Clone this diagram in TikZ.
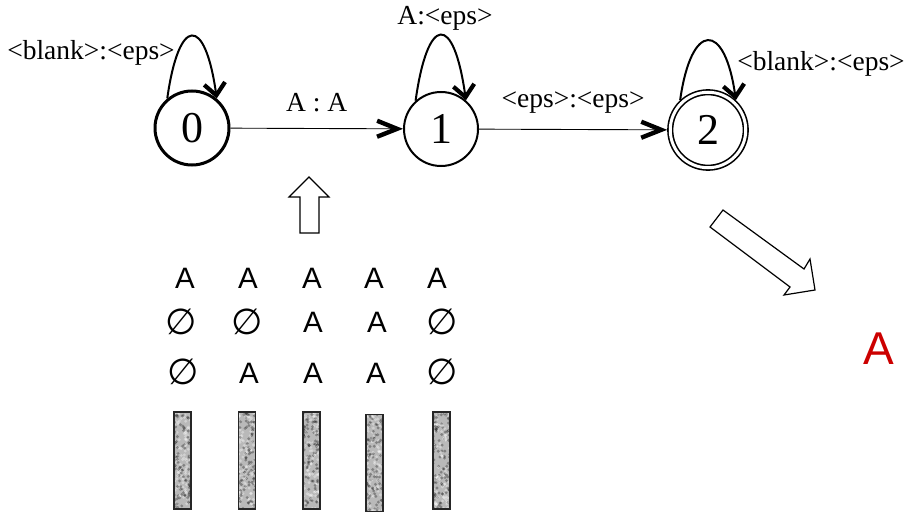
\documentclass[tikz,border=0pt]{standalone}
\usepackage{fontspec}
\setmainfont{Liberation Serif}
\newfontfamily\arialfont{Liberation Sans}
\newfontfamily\symfont{DejaVu Sans}
\usetikzlibrary{arrows.meta}

\begin{document}
\begin{tikzpicture}[x=1pt, y=1pt,
    state/.style={circle, draw=black, line width=2pt, minimum size=74pt, inner sep=0pt, font=\fontsize{44}{44}\selectfont},
    accept/.style={state, double, double distance=3pt, line width=1.6pt, minimum size=75.5pt, outer sep=3.1pt},
    lbl/.style={font=\fontsize{27.5}{30}\selectfont, inner sep=0pt},
    fsaedge/.style={-{Straight Barb[length=20pt, width=16pt, line width=4.4pt]}, line width=0.9pt},
    loopedge/.style={-{Straight Barb[length=12pt, width=21pt, line width=4.2pt]}, line width=2pt},
    letter/.style={font=\arialfont\fontsize{29.5}{29.5}\selectfont, inner sep=0pt},
    nul/.style={font=\symfont\fontsize{36}{36}\selectfont, inner sep=0pt},
    bar/.style={rectangle, draw=black!85, line width=1.6pt, fill=gray!55, minimum width=17pt, minimum height=97pt, inner sep=0pt,
        path picture={
            \foreach \k in {1,...,90}{
                \fill[black, opacity=0.3] (path picture bounding box.south west) ++({17*rnd},{97*rnd}) circle (1.6pt);
                \fill[white, opacity=0.35] (path picture bounding box.south west) ++({17*rnd},{97*rnd}) circle (1.6pt);
            }}},
    hollow/.style={draw=black, line width=1.2pt, fill=white, line join=miter}]
    \useasboundingbox (0,0) rectangle (910,-516);
    \pgfmathsetseed{42}
    % transducer
    \node[state, line width=3pt] (s0) at (192,-128) {0};
    \node[state] (s1) at (441,-129) {1};
    \node[accept] (s2) at (708,-130) {2};
    \draw[fsaedge] (s0) -- node[lbl, above=16pt]{A : A} (s1);
    \draw[fsaedge] (s1) -- node[lbl, above=16pt]{<eps>:<eps>} (s2);
    \draw[loopedge] (s0.130) to[out=82, in=98, distance=84pt] (s0.50);
    \draw[loopedge] (s1.132) to[out=82, in=98, distance=88pt] (s1.49);
    \draw[loopedge] (s2.133) to[out=82, in=98, distance=80pt] (s2.47);
    \node[lbl] (l0) at (91,-53) {<blank>:<eps>};
    \node[lbl] (l1) at (445,-18) {A:<eps>};
    \node[lbl] (l2) at (821,-64) {<blank>:<eps>};
    % hollow arrows
    \draw[hollow] (309,-177) -- (329,-197) -- (319,-197) -- (319,-233) -- (300,-233) -- (300,-197) -- (289,-197) -- cycle;
    \draw[hollow] (723,-210) -- (804,-269) -- (810,-259) -- (815,-290) -- (784,-295) -- (790,-287) -- (710,-227) -- cycle;
    % frames
    \node[letter] (a11) at (185,-278) {A};
    \node[letter] (a12) at (248,-278) {A};
    \node[letter] (a13) at (312,-278) {A};
    \node[letter] (a14) at (374,-278) {A};
    \node[letter] (a15) at (437,-278) {A};
    \node[nul] (a21) at (181,-322) {∅};
    \node[nul] (a22) at (247,-322) {∅};
    \node[letter] (a23) at (313,-322) {A};
    \node[letter] (a24) at (377,-322) {A};
    \node[nul] (a25) at (442,-322) {∅};
    \node[nul] (a31) at (183,-372) {∅};
    \node[letter] (a32) at (249,-373) {A};
    \node[letter] (a33) at (313,-373) {A};
    \node[letter] (a34) at (376,-373) {A};
    \node[nul] (a35) at (442,-372) {∅};
    \node[bar] (b1) at (182.5,-460.5) {};
    \node[bar] (b2) at (247,-460.5) {};
    \node[bar] (b3) at (311.5,-460.5) {};
    \node[bar] (b4) at (374.5,-463) {};
    \node[bar] (b5) at (441.5,-460.5) {};
    % output
    \node[font=\arialfont\fontsize{46}{46}\selectfont, text=red!80!black, inner sep=0pt] (out) at (879,-348.5) {A};
\end{tikzpicture}
\end{document}
